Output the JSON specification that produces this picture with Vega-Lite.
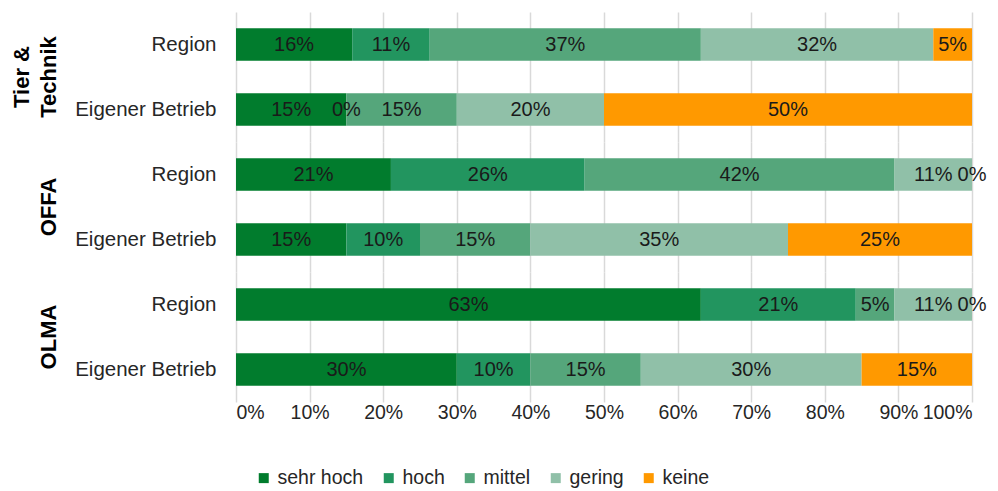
{
  "$schema": "https://vega.github.io/schema/vega-lite/v6.json",
  "padding": {"left": 10, "top": 12, "right": 2, "bottom": 5},
  "data": {"values": [
    {"gruppe": "Tier & Technik", "betrachtung": "Region", "kategorie": "sehr hoch", "ord": 1, "anteil": 0.1579},
    {"gruppe": "Tier & Technik", "betrachtung": "Region", "kategorie": "hoch", "ord": 2, "anteil": 0.1053},
    {"gruppe": "Tier & Technik", "betrachtung": "Region", "kategorie": "mittel", "ord": 3, "anteil": 0.3684},
    {"gruppe": "Tier & Technik", "betrachtung": "Region", "kategorie": "gering", "ord": 4, "anteil": 0.3158},
    {"gruppe": "Tier & Technik", "betrachtung": "Region", "kategorie": "keine", "ord": 5, "anteil": 0.0526},
    {"gruppe": "Tier & Technik", "betrachtung": "Eigener Betrieb", "kategorie": "sehr hoch", "ord": 1, "anteil": 0.15},
    {"gruppe": "Tier & Technik", "betrachtung": "Eigener Betrieb", "kategorie": "hoch", "ord": 2, "anteil": 0.0},
    {"gruppe": "Tier & Technik", "betrachtung": "Eigener Betrieb", "kategorie": "mittel", "ord": 3, "anteil": 0.15},
    {"gruppe": "Tier & Technik", "betrachtung": "Eigener Betrieb", "kategorie": "gering", "ord": 4, "anteil": 0.2},
    {"gruppe": "Tier & Technik", "betrachtung": "Eigener Betrieb", "kategorie": "keine", "ord": 5, "anteil": 0.5},
    {"gruppe": "OFFA", "betrachtung": "Region", "kategorie": "sehr hoch", "ord": 1, "anteil": 0.2105},
    {"gruppe": "OFFA", "betrachtung": "Region", "kategorie": "hoch", "ord": 2, "anteil": 0.2632},
    {"gruppe": "OFFA", "betrachtung": "Region", "kategorie": "mittel", "ord": 3, "anteil": 0.4211},
    {"gruppe": "OFFA", "betrachtung": "Region", "kategorie": "gering", "ord": 4, "anteil": 0.1053},
    {"gruppe": "OFFA", "betrachtung": "Region", "kategorie": "keine", "ord": 5, "anteil": 0.0},
    {"gruppe": "OFFA", "betrachtung": "Eigener Betrieb", "kategorie": "sehr hoch", "ord": 1, "anteil": 0.15},
    {"gruppe": "OFFA", "betrachtung": "Eigener Betrieb", "kategorie": "hoch", "ord": 2, "anteil": 0.1},
    {"gruppe": "OFFA", "betrachtung": "Eigener Betrieb", "kategorie": "mittel", "ord": 3, "anteil": 0.15},
    {"gruppe": "OFFA", "betrachtung": "Eigener Betrieb", "kategorie": "gering", "ord": 4, "anteil": 0.35},
    {"gruppe": "OFFA", "betrachtung": "Eigener Betrieb", "kategorie": "keine", "ord": 5, "anteil": 0.25},
    {"gruppe": "OLMA", "betrachtung": "Region", "kategorie": "sehr hoch", "ord": 1, "anteil": 0.6316},
    {"gruppe": "OLMA", "betrachtung": "Region", "kategorie": "hoch", "ord": 2, "anteil": 0.2105},
    {"gruppe": "OLMA", "betrachtung": "Region", "kategorie": "mittel", "ord": 3, "anteil": 0.0526},
    {"gruppe": "OLMA", "betrachtung": "Region", "kategorie": "gering", "ord": 4, "anteil": 0.1053},
    {"gruppe": "OLMA", "betrachtung": "Region", "kategorie": "keine", "ord": 5, "anteil": 0.0},
    {"gruppe": "OLMA", "betrachtung": "Eigener Betrieb", "kategorie": "sehr hoch", "ord": 1, "anteil": 0.3},
    {"gruppe": "OLMA", "betrachtung": "Eigener Betrieb", "kategorie": "hoch", "ord": 2, "anteil": 0.1},
    {"gruppe": "OLMA", "betrachtung": "Eigener Betrieb", "kategorie": "mittel", "ord": 3, "anteil": 0.15},
    {"gruppe": "OLMA", "betrachtung": "Eigener Betrieb", "kategorie": "gering", "ord": 4, "anteil": 0.3},
    {"gruppe": "OLMA", "betrachtung": "Eigener Betrieb", "kategorie": "keine", "ord": 5, "anteil": 0.15}
  ]},
  "spacing": 0,
  "facet": {
    "row": {
      "field": "gruppe", "type": "nominal",
      "sort": ["Tier & Technik", "OFFA", "OLMA"],
      "header": {
        "title": null,
        "labelAngle": -90,
        "labelOrient": "left",
        "labelFontSize": 22,
        "labelFontWeight": "bold",
        "labelFont": "Liberation Sans",
        "labelColor": "#000000",
        "labelPadding": 4,
        "labelLineHeight": 27,
        "labelExpr": "datum.value == 'Tier & Technik' ? ['Tier &', 'Technik'] : datum.value"
      }
    }
  },
  "spec": {
    "width": 736,
    "height": 130,
    "encoding": {
      "y": {
        "field": "betrachtung", "type": "nominal",
        "sort": ["Region", "Eigener Betrieb"],
        "scale": {"paddingInner": 0.5, "paddingOuter": 0.25},
        "axis": {"title": null, "ticks": false, "domain": false, "labelFontSize": 20.5, "labelPadding": 20, "labelColor": "#262626", "labelFont": "Liberation Sans"}
      },
      "order": {"field": "ord", "type": "quantitative"}
    },
    "layer": [
      {
        "mark": {"type": "bar"},
        "encoding": {
          "x": {
            "field": "anteil", "type": "quantitative", "stack": "zero",
            "scale": {"domain": [0, 1]},
            "axis": {"title": null, "format": ".0%", "values": [0, 0.1, 0.2, 0.3, 0.4, 0.5, 0.6, 0.7, 0.8, 0.9, 1], "ticks": false, "domain": false, "grid": true, "gridColor": "#d9d9d9", "gridWidth": 1.5, "labelFontSize": 19.5, "labelColor": "#262626", "labelFont": "Liberation Sans", "labelPadding": 1}
          },
          "color": {
            "field": "kategorie", "type": "nominal",
            "scale": {"domain": ["sehr hoch", "hoch", "mittel", "gering", "keine"], "range": ["#017c2d", "#22955f", "#55a67b", "#90c0a8", "#ff9900"]},
            "legend": {"title": null, "orient": "none", "legendX": 18, "legendY": 456, "direction": "horizontal", "symbolType": "square", "symbolSize": 100, "symbolStrokeWidth": 0, "labelFontSize": 19.5, "labelFont": "Liberation Sans", "labelColor": "#262626", "columnPadding": 15, "labelOffset": 4}
          }
        }
      },
      {
        "mark": {"type": "text", "fontSize": 20, "font": "Liberation Sans", "color": "#1a1a1a"},
        "encoding": {
          "x": {"field": "anteil", "type": "quantitative", "stack": "zero", "bandPosition": 0.5},
          "detail": {"field": "kategorie", "type": "nominal"},
          "text": {"field": "anteil", "type": "quantitative", "format": ".0%"}
        }
      }
    ]
  },
  "config": {"view": {"stroke": null}}
}
